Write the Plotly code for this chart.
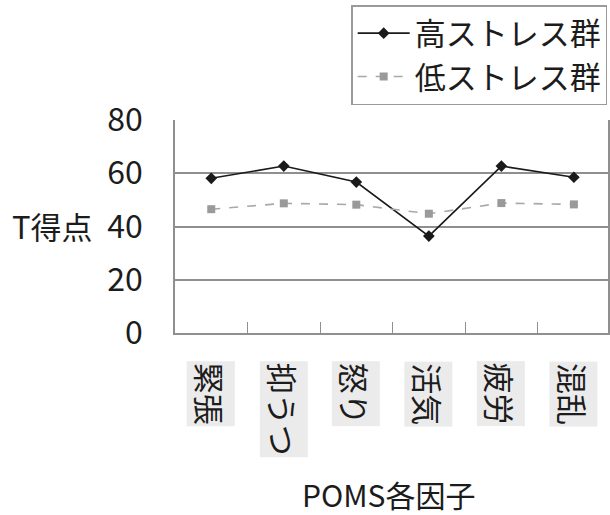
import plotly.graph_objects as go

# POMS factor T-scores for the two stress groups
factors = ["緊張", "抑うつ", "怒り", "活気", "疲労", "混乱"]
high_stress = [58.1, 62.7, 56.7, 36.4, 62.7, 58.5]
low_stress = [46.5, 48.7, 48.2, 44.8, 48.8, 48.3]
series_names = ["高ストレス群", "低ストレス群"]
y_ticks = [0, 20, 40, 60, 80]

FONT = "Noto Sans CJK JP, Noto Sans, sans-serif"
TEXT = "#1c1c1c"
GRID = "#8f8f8f"

# plot area in pixels: x 175..610, y 120..333
L, R, T, B = 175, 610, 120, 333


def px_to_paper(px, py):
    return (px - L) / (R - L), (B - py) / (B - T)


fig = go.Figure()
fig.add_trace(go.Scatter(
    x=factors, y=high_stress, name=series_names[0], mode="lines+markers",
    line=dict(color="#1a1a1a", width=1.6),
    marker=dict(symbol="diamond", size=9, color="#1a1a1a"),
))
fig.add_trace(go.Scatter(
    x=factors, y=low_stress, name=series_names[1], mode="lines+markers",
    line=dict(color="#a8a8a8", width=1.6, dash="dash"),
    marker=dict(symbol="square", size=8, color="#9a9a9a"),
))

# vertical category labels on grey tabs below the axis
_, tab_top = px_to_paper(0, 361)
for name in factors:
    fig.add_annotation(
        x=name, y=tab_top, xref="x", yref="paper",
        text=name, textangle=90, showarrow=False,
        xanchor="center", yanchor="top",
        bgcolor="#ebebeb", borderpad=1,
        font=dict(family=FONT, size=31, color=TEXT),
    )

tx, ty = px_to_paper(9, 225)
fig.add_annotation(
    x=tx, y=ty, xref="paper", yref="paper",
    text="T得点", showarrow=False, xanchor="left", yanchor="middle",
    font=dict(family=FONT, size=31, color=TEXT),
)
ax, ay = px_to_paper(390, 494)
fig.add_annotation(
    x=ax, y=ay, xref="paper", yref="paper",
    text="POMS各因子", showarrow=False, xanchor="center", yanchor="middle",
    font=dict(family=FONT, size=30, color=TEXT),
)

lx, ly = px_to_paper(352, 5)
fig.update_layout(
    width=610, height=515,
    margin=dict(l=L, r=610 - R, t=T, b=515 - B),
    paper_bgcolor="white", plot_bgcolor="white",
    font=dict(family=FONT, color=TEXT),
    showlegend=True,
    legend=dict(
        x=lx, y=ly, xanchor="left", yanchor="top",
        bordercolor="#9a9a9a", borderwidth=1.5, bgcolor="white",
        font=dict(family=FONT, size=31, color=TEXT),
        itemwidth=52, tracegroupgap=0,
    ),
    xaxis=dict(
        type="category", range=[-0.5, 5.47],
        showticklabels=False, tickson="boundaries",
        ticks="inside", ticklen=11, tickcolor=GRID, tickwidth=1.3,
        showline=True, linecolor=GRID, linewidth=1.5, mirror=False,
        showgrid=False, zeroline=False,
    ),
    yaxis=dict(
        range=[0, 80], tickvals=y_ticks, ticks="",
        ticklabelstandoff=24,
        tickfont=dict(family=FONT, size=32, color=TEXT),
        showline=True, linecolor=GRID, linewidth=1.5, mirror=True,
        showgrid=True, gridcolor=GRID, gridwidth=1.5, zeroline=False,
    ),
)

fig.write_html("out.html")
